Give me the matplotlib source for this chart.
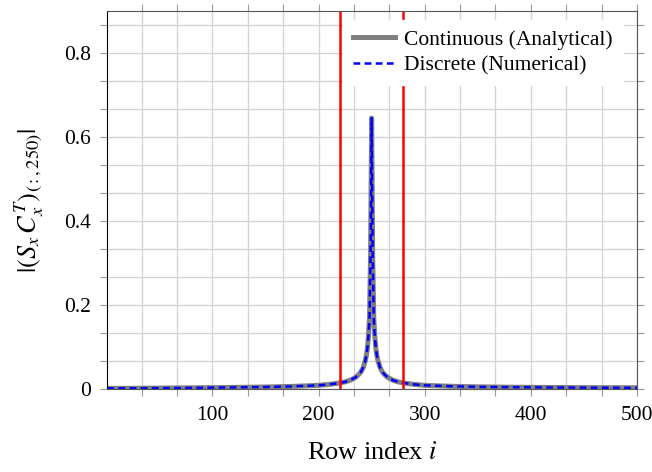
import matplotlib
matplotlib.use("Agg")
import matplotlib.pyplot as plt
from matplotlib.ticker import MultipleLocator, AutoMinorLocator, FuncFormatter

plt.rcParams['font.family'] = ['Liberation Serif', 'DejaVu Serif']
plt.rcParams['mathtext.fontset'] = 'stix'

# column 250 of |S_x C_x^T|
rows = [1, 25, 50, 75, 100, 125, 150, 175, 200, 210, 220, 225, 230, 235, 238,
        240, 242, 244, 245, 246, 247, 248, 249, 250, 251, 252, 253, 254, 255,
        256, 258, 260, 262, 265, 270, 275, 280, 290, 300, 325, 350, 375, 400,
        425, 450, 475, 500]
analytical = [0.0015, 0.0018, 0.0022, 0.0027, 0.0033, 0.004, 0.0048, 0.0062,
              0.0088, 0.011, 0.0145, 0.017, 0.021, 0.028, 0.035, 0.041, 0.051,
              0.067, 0.079, 0.097, 0.125, 0.17, 0.32, 0.645, 0.32, 0.17, 0.125,
              0.097, 0.079, 0.067, 0.051, 0.041, 0.035, 0.028, 0.021, 0.017,
              0.0145, 0.011, 0.0088, 0.0065, 0.0052, 0.0045, 0.004, 0.0036,
              0.0033, 0.0031, 0.003]
numerical = list(analytical)
window = [220, 280]

fig = plt.figure(figsize=(6.52, 4.72), dpi=100)
ax = fig.add_axes([0.1646, 0.1758, 0.8124, 0.8009])

ax.plot(rows, analytical, color='#808080', lw=3.6, label='Continuous (Analytical)')
ax.plot(rows, numerical, color='#0000ff', lw=1.8, linestyle=(0, (2.7, 1.75)),
        label='Discrete (Numerical)')
for w in window:
    ax.axvline(w, color='red', lw=1.8)

ax.set_xlim(1, 500)
ax.set_ylim(0, 0.9)
ax.xaxis.set_major_locator(MultipleLocator(100))
ax.xaxis.set_minor_locator(AutoMinorLocator(3))
ax.yaxis.set_major_locator(MultipleLocator(0.2))
ax.yaxis.set_minor_locator(AutoMinorLocator(3))
ax.yaxis.set_major_formatter(FuncFormatter(lambda v, p: '%g' % round(v, 2)))

ax.set_axisbelow(True)
ax.grid(True, which='both', color='#d4d4d4', lw=1.0)
ax.tick_params(which='both', direction='out', length=5, width=0.8, color='#999999',
               top=True, right=True, labelsize=15.5, pad=7)

for side in ['top', 'right', 'bottom']:
    ax.spines[side].set_color('#555555')
ax.spines['left'].set_color('black')

ax.set_xlabel('Row index $i$', fontsize=19)
ax.set_ylabel(r'$|(S_x\,C_x^T)_{(:,250)}|$', fontsize=19)
ax.xaxis.set_label_coords(0.5, -0.14)
ax.yaxis.set_label_coords(-0.115, 0.5)

leg = ax.legend(loc='upper right', bbox_to_anchor=(0.983, 0.99), fontsize=15.5,
                frameon=True, fancybox=False, edgecolor='white', framealpha=1,
                handlelength=1.95, handletextpad=0.45, borderaxespad=0.25,
                borderpad=0.45, labelspacing=0.25)
leg.set_zorder(5)

fig.savefig('out.png', dpi=100)
